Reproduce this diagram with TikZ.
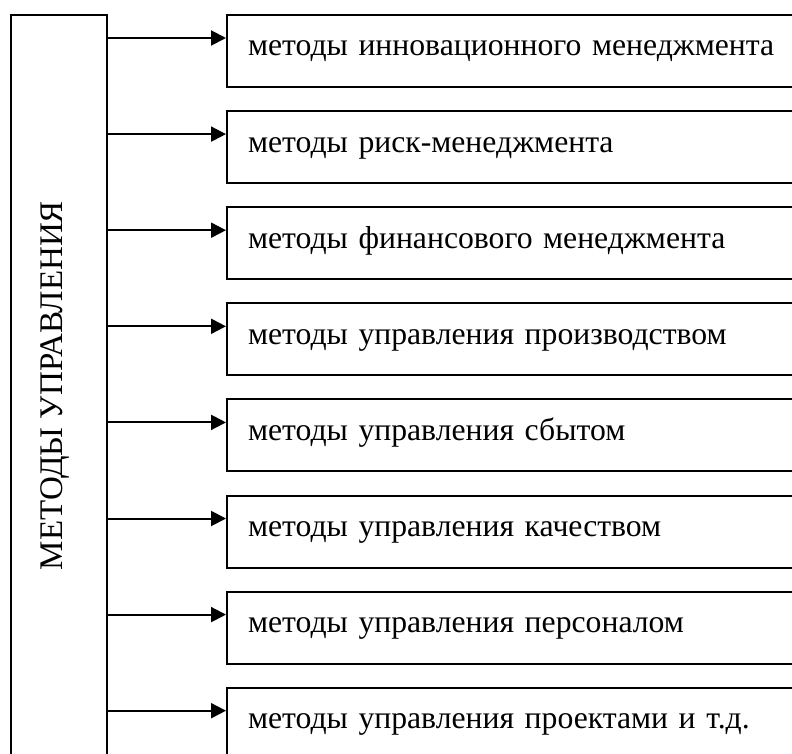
\documentclass[tikz,border=0pt]{standalone}
\usepackage{fontspec}
\setmainfont{Liberation Serif}
\usetikzlibrary{arrows.meta,calc}
\begin{document}
\begin{tikzpicture}[x=1pt,y=1pt,
  frame/.style={draw=black, line width=2pt},
  methodbox/.style={frame, anchor=north west,
    text height=41pt, text depth=31pt,
    text width=590pt, align=left, inner xsep=21pt, inner ysep=0pt,
    font=\fontsize{31.7}{38}\selectfont},
  arr/.style={line width=2pt, -{Triangle[length=15pt,width=15pt]}}]
\useasboundingbox (0,0) rectangle (792,-754);
\fill[white] (0,0) rectangle (792,-754);
% tall box on the left with the vertical title
\node[frame, anchor=north west, minimum width=96pt, minimum height=800pt,
  inner sep=0pt] (L) at (10,-14) {};
\node[rotate=90, anchor=base, inner sep=0pt, font=\fontsize{33}{40}\selectfont]
  (title) at (62,-385.5) {МЕТОДЫ УПРАВЛЕНИЯ};
% method boxes
\foreach \i/\t in {0/методы инновационного менеджмента,
                   1/методы риск-менеджмента,
                   2/методы финансового менеджмента,
                   3/методы управления производством,
                   4/методы управления сбытом,
                   5/методы управления качеством,
                   6/методы управления персоналом,
                   7/методы управления проектами и т.д.}{
  \node[methodbox] (b\i) at (226,{-14-96.1*\i}) {\t};
  \coordinate (a\i) at ($(b\i.north west)+(0,-24)$);
  \draw[arr] (L.east |- a\i) -- (a\i);
}
\end{tikzpicture}
\end{document}
